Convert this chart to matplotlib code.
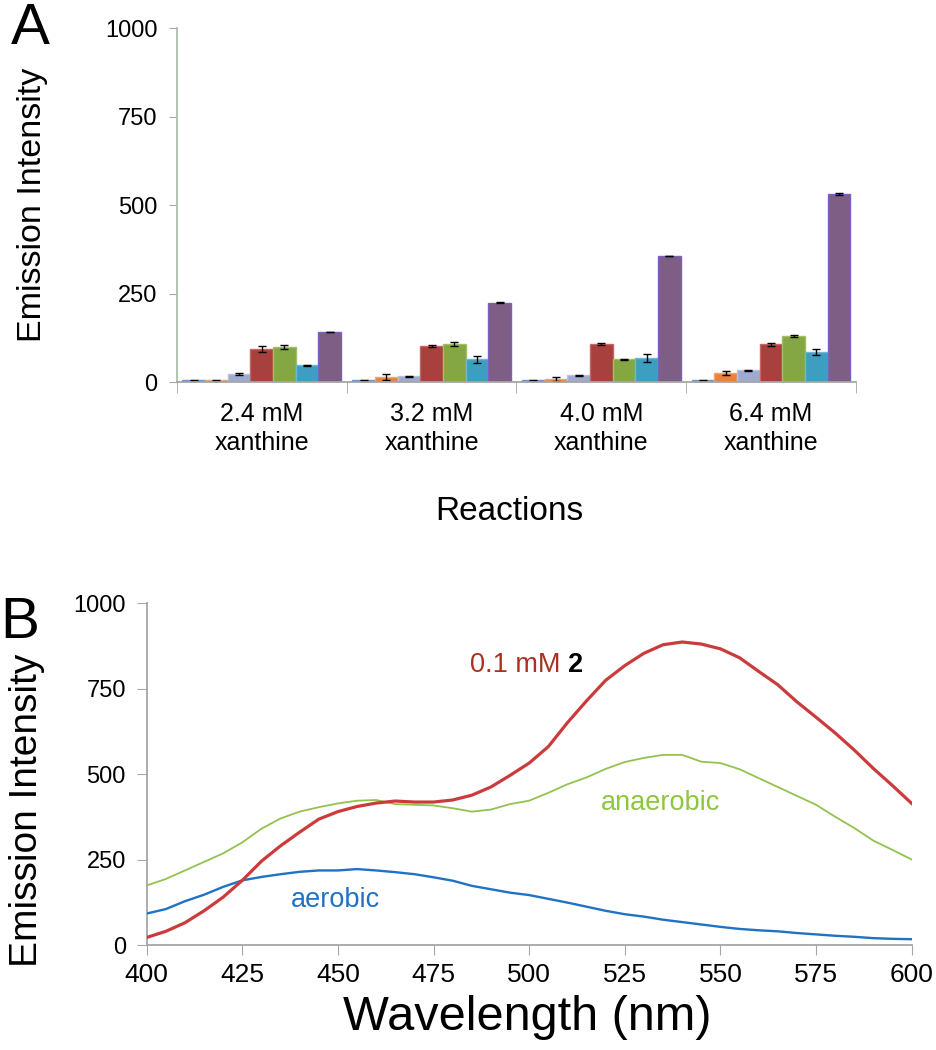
import numpy as np
import matplotlib
matplotlib.use("Agg")
import matplotlib.pyplot as plt

plt.rcParams['font.family'] = ['Liberation Sans', 'DejaVu Sans']

# ---- panel A data ----
groups = ['2.4 mM\nxanthine', '3.2 mM\nxanthine', '4.0 mM\nxanthine', '6.4 mM\nxanthine']
s1 = [5, 5, 5, 5]
s2 = [5, 14, 9, 25]
s3 = [23, 17, 19, 34]
s4 = [93, 102, 108, 107]
s5 = [99, 108, 65, 130]
s6 = [48, 65, 69, 85]
s7 = [142, 225, 357, 532]
e1 = [1, 1, 1, 1]
e2 = [1, 9, 6, 6]
e3 = [2, 1, 2, 1]
e4 = [8, 3, 2, 5]
e5 = [5, 5, 1, 2]
e6 = [1, 10, 12, 8]
e7 = [1, 2, 1, 2]

# ---- panel B data ----
wl = [400, 405, 410, 415, 420, 425, 430, 435, 440, 445, 450, 455, 460, 465,
      470, 475, 480, 485, 490, 495, 500, 505, 510, 515, 520, 525, 530, 535,
      540, 545, 550, 555, 560, 565, 570, 575, 580, 585, 590, 595, 600]
red = [22, 40, 65, 100, 140, 189, 245, 290, 330, 368, 390, 405, 415, 421,
       418, 418, 424, 438, 462, 496, 532, 580, 650, 714, 774, 817, 853, 878,
       886, 880, 866, 840, 800, 761, 711, 666, 620, 570, 516, 466, 414]
green = [174, 193, 218, 243, 268, 300, 340, 370, 390, 403, 414, 422, 424, 412,
         410, 408, 400, 390, 396, 412, 422, 445, 470, 490, 515, 535, 547, 556,
         556, 536, 532, 514, 488, 462, 436, 410, 375, 342, 305, 278, 250]
blue = [92, 105, 128, 147, 170, 189, 199, 207, 214, 218, 218, 222, 218, 213,
        207, 198, 188, 173, 163, 153, 146, 135, 124, 112, 100, 90, 83, 74,
        67, 60, 53, 47, 43, 40, 35, 31, 27, 24, 20, 18, 17]

fig = plt.figure(figsize=(9.36, 10.5), dpi=100)

# ================= A =================
axA = fig.add_axes([0.189, 0.636, 0.7255, 0.337])
vals = [s1, s2, s3, s4, s5, s6, s7]
errs = [e1, e2, e3, e4, e5, e6, e7]
fills = ['#4A78B8', '#E8823C', '#9FAAD0', '#A8403E', '#84A744', '#3E9EC2', '#7F5E86']
edges = ['#6F95CC', '#F3A56E', '#B9C2E0', '#C46662', '#A2C063', '#6BB8D4', '#7B60C4']
w = 0.1335
x = np.arange(len(groups))
for i in range(7):
    axA.bar(x + (i - 3) * w, vals[i], w, color=fills[i], edgecolor=edges[i],
            linewidth=1, yerr=errs[i], capsize=3,
            error_kw=dict(ecolor='black', elinewidth=1, capthick=1), zorder=2)

axA.set_xlim(-0.5, 3.5)
axA.set_ylim(0, 1000)
axA.set_yticks([0, 250, 500, 750, 1000])
axA.set_xticks(x)
axA.set_xticklabels(groups, fontsize=18, linespacing=1.3)
axA.set_xticks([-0.5, 0.5, 1.5, 2.5, 3.5], minor=True)
axA.tick_params(axis='x', which='major', length=0, pad=14)
axA.tick_params(axis='x', which='minor', length=8, color='#A6A6A6', direction='out')
axA.tick_params(axis='y', labelsize=17, length=6, color='#A6A6A6', direction='out', pad=8)
for s in ['top', 'right']:
    axA.spines[s].set_visible(False)
axA.spines['left'].set_color('#A9BFA9')
axA.spines['left'].set_linewidth(1.3)
axA.spines['bottom'].set_color('#A6A6A6')
axA.spines['bottom'].set_linewidth(1.3)
axA.set_ylabel('Emission Intensity', fontsize=24.5)
axA.yaxis.set_label_coords(-0.19, 0.5)
axA.set_xlabel('Reactions', fontsize=24)
axA.xaxis.set_label_coords(0.489, -0.322)

# ================= B =================
axB = fig.add_axes([0.1567, 0.1, 0.8173, 0.3257])
axB.plot(wl, green, color='#93C24F', linewidth=1.3, zorder=2)
axB.plot(wl, blue, color='#1F72C4', linewidth=1.7, zorder=3)
axB.plot(wl, red, color='#CC3B3B', linewidth=2.3, zorder=4)
axB.set_xlim(400, 600)
axB.set_ylim(0, 1000)
axB.set_xticks(np.arange(400, 601, 25))
axB.set_yticks([0, 250, 500, 750, 1000])
axB.tick_params(axis='x', labelsize=19, length=7, color='#A6A6A6', direction='out', pad=6)
axB.tick_params(axis='y', labelsize=17, length=7, color='#A6A6A6', direction='out', pad=8)
for s in ['top', 'right']:
    axB.spines[s].set_visible(False)
for s in ['left', 'bottom']:
    axB.spines[s].set_color('#A6A6A6')
    axB.spines[s].set_linewidth(1.3)
axB.set_ylabel('Emission Intensity', fontsize=28)
axB.yaxis.set_label_coords(-0.133, 0.395)
axB.set_xlabel('Wavelength (nm)', fontsize=35)
axB.xaxis.set_label_coords(0.497, -0.145)

t = axB.text(484.6, 820, '0.1 mM ', color='#A8321F', fontsize=19.5, va='center', ha='left')
axB.annotate('2', xycoords=t, xy=(1, 0.5), va='center', ha='left',
             fontsize=19.5, fontweight='bold', color='black')
axB.text(518.7, 415, 'anaerobic', color='#8DC63F', fontsize=19.5, va='center', ha='left')
axB.text(437.7, 131, 'aerobic', color='#1F72C4', fontsize=19.5, va='center', ha='left')

fig.text(0.012, 0.998, 'A', fontsize=42, va='top', ha='left')
fig.text(0.0, 0.432, 'B', fontsize=42, va='top', ha='left')

fig.savefig('out.png', dpi=100)
